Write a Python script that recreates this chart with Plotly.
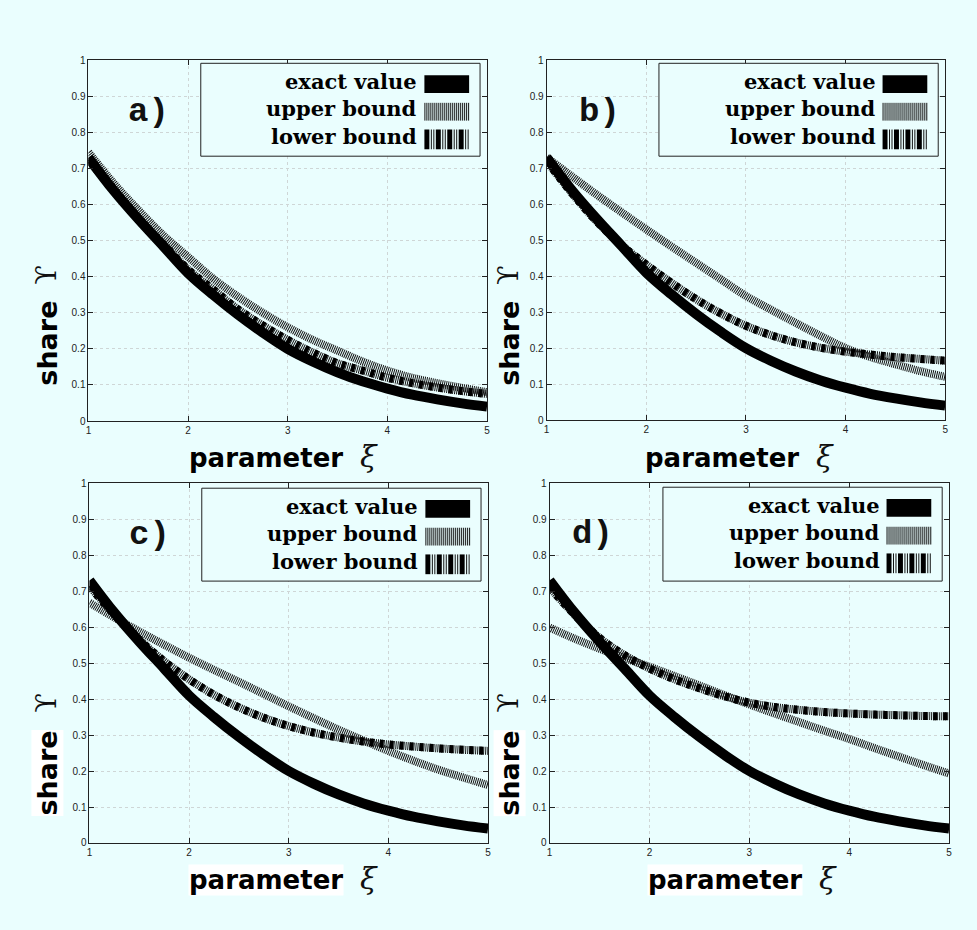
import plotly.graph_objects as go

# ---------------- data ----------------
xi = [1.0, 1.25, 1.5, 1.75, 2.0, 2.25, 2.5, 2.75, 3.0, 3.25, 3.5, 3.75, 4.0, 4.25, 4.5, 4.75, 5.0]

exact = [0.73, 0.64, 0.56, 0.485, 0.41, 0.35, 0.295, 0.245, 0.20, 0.165, 0.135, 0.11, 0.09, 0.073, 0.06, 0.049, 0.04]

upper_a = [0.745, 0.66, 0.585, 0.515, 0.455, 0.395, 0.345, 0.30, 0.26, 0.225, 0.195, 0.165, 0.14, 0.12, 0.105, 0.092, 0.08]
lower_a = [0.725, 0.64, 0.56, 0.49, 0.42, 0.365, 0.31, 0.265, 0.225, 0.19, 0.16, 0.14, 0.12, 0.105, 0.093, 0.083, 0.075]

upper_b = [0.73, 0.678, 0.627, 0.578, 0.53, 0.483, 0.437, 0.391, 0.345, 0.307, 0.27, 0.234, 0.20, 0.175, 0.155, 0.136, 0.12]
lower_b = [0.72, 0.632, 0.553, 0.487, 0.432, 0.382, 0.336, 0.296, 0.262, 0.236, 0.216, 0.201, 0.19, 0.182, 0.175, 0.17, 0.165]

upper_c = [0.668, 0.627, 0.588, 0.551, 0.515, 0.481, 0.448, 0.414, 0.38, 0.347, 0.315, 0.285, 0.256, 0.229, 0.204, 0.182, 0.161]
lower_c = [0.714, 0.635, 0.565, 0.505, 0.455, 0.412, 0.377, 0.348, 0.325, 0.307, 0.293, 0.282, 0.274, 0.268, 0.263, 0.259, 0.256]

upper_d = [0.599, 0.568, 0.54, 0.514, 0.49, 0.464, 0.438, 0.411, 0.385, 0.36, 0.336, 0.312, 0.289, 0.264, 0.24, 0.216, 0.193]
lower_d = [0.71, 0.635, 0.57, 0.522, 0.485, 0.455, 0.43, 0.408, 0.39, 0.378, 0.37, 0.364, 0.36, 0.357, 0.355, 0.353, 0.352]

panel_labels = ["a)", "b)", "c)", "d)"]
legend_names = ["exact value", "upper bound", "lower bound"]
x_title = "parameter"
x_symbol = "ξ"
y_title = "share"
y_symbol = "ϒ"
x_ticks = [1, 2, 3, 4, 5]
y_ticks = [0, 0.1, 0.2, 0.3, 0.4, 0.5, 0.6, 0.7, 0.8, 0.9, 1]

uppers = [upper_a, upper_b, upper_c, upper_d]
lowers = [lower_a, lower_b, lower_c, lower_d]

# ---------------- layout (pixels) ----------------
W, H = 977, 930
BG = "#eafefe"

panels = [
    dict(xd=(86, 487), yd=(56, 421), lab=(146, 108), leg=(199, 59, 480, 153),
         xt=(343, 458), yt=(45, 342, 273), white=False),
    dict(xd=(547, 948), yd=(56, 420), lab=(600, 108), leg=(660, 59, 941, 153),
         xt=(802, 458), yt=(510, 342, 273), white=False),
    dict(xd=(87, 488), yd=(484, 848), lab=(147, 536), leg=(200, 489, 481, 583),
         xt=(343, 885), yt=(45, 777, 706), white=True),
    dict(xd=(550, 952), yd=(484, 848), lab=(593, 535), leg=(664, 488, 945, 583),
         xt=(805, 885), yt=(510, 777, 706), white=True),
]


def px(x):
    return x / W


def py(y):
    return 1 - y / H


fig = go.Figure()
shapes = []
annotations = []
layout_axes = {}

for i, p in enumerate(panels):
    suf = "" if i == 0 else str(i + 1)
    xa, ya = "x" + suf, "y" + suf

    # upper bound: fine hatched band
    fig.add_trace(go.Scatter(x=xi, y=uppers[i], mode="lines", xaxis=xa, yaxis=ya,
                             line=dict(color="#111", width=8, dash="1px,1px", shape="spline"),
                             showlegend=False, hoverinfo="skip"))
    # lower bound: hatched band with black blocks
    fig.add_trace(go.Scatter(x=xi, y=lowers[i], mode="lines", xaxis=xa, yaxis=ya,
                             line=dict(color="#111", width=8, dash="1px,1px", shape="spline"),
                             showlegend=False, hoverinfo="skip"))
    fig.add_trace(go.Scatter(x=xi, y=lowers[i], mode="lines", xaxis=xa, yaxis=ya,
                             line=dict(color="black", width=8, dash="4px,6px", shape="spline"),
                             showlegend=False, hoverinfo="skip"))
    # exact value: thick solid
    fig.add_trace(go.Scatter(x=xi, y=exact, mode="lines", xaxis=xa, yaxis=ya,
                             line=dict(color="black", width=10, shape="spline"),
                             showlegend=False, hoverinfo="skip"))

    common = dict(showline=True, linecolor="#222", linewidth=1, mirror="ticks",
                  ticks="inside", ticklen=5, tickcolor="#222", showgrid=True,
                  gridcolor="#cfd6d6", griddash="dot", gridwidth=1, zeroline=False,
                  tickfont=dict(family="Liberation Sans", size=10, color="#222"))
    layout_axes["xaxis" + suf] = dict(domain=[px(p["xd"][0]), px(p["xd"][1])], range=[1, 5],
                                      tickvals=x_ticks, anchor=ya, **common)
    layout_axes["yaxis" + suf] = dict(domain=[py(p["yd"][1]), py(p["yd"][0])], range=[0, 1],
                                      tickvals=y_ticks, anchor=xa, **common)

    # panel label
    annotations.append(dict(x=px(p["lab"][0]), y=py(p["lab"][1]), xref="paper", yref="paper",
                            text="<b>%s</b>" % panel_labels[i], showarrow=False,
                            font=dict(family="Liberation Mono", size=34, color="#111"),
                            xanchor="center", yanchor="middle"))

    # x axis title
    wb = "white" if p["white"] else "rgba(0,0,0,0)"
    annotations.append(dict(x=px(p["xt"][0]), y=py(p["xt"][1]), xref="paper", yref="paper",
                            text="<b>%s</b>" % x_title, showarrow=False, bgcolor=wb, borderpad=0,
                            font=dict(family="DejaVu Sans", size=26, color="#000"),
                            xanchor="right", yanchor="middle"))
    annotations.append(dict(x=px(p["xt"][0] + 14), y=py(p["xt"][1] - 1), xref="paper", yref="paper",
                            text="<i>%s</i>" % x_symbol, showarrow=False,
                            font=dict(family="DejaVu Serif", size=30, color="#111"),
                            xanchor="left", yanchor="middle"))
    # y axis title
    annotations.append(dict(x=px(p["yt"][0]), y=py(p["yt"][1]), xref="paper", yref="paper",
                            text="<b>%s</b>" % y_title, showarrow=False, textangle=-90,
                            bgcolor=wb, borderpad=0,
                            font=dict(family="DejaVu Sans", size=27, color="#000"),
                            xanchor="center", yanchor="middle"))
    annotations.append(dict(x=px(p["yt"][0] - 1), y=py(p["yt"][2]), xref="paper", yref="paper",
                            text=y_symbol, showarrow=False, textangle=-90,
                            font=dict(family="DejaVu Serif", size=28, color="#111"),
                            xanchor="center", yanchor="middle"))

    # legend box
    l, t, r, b = p["leg"]
    shapes.append(dict(type="rect", xref="paper", yref="paper", x0=px(l), x1=px(r), y0=py(b), y1=py(t),
                       line=dict(color="#222", width=1), fillcolor=BG, layer="above"))
    rows = [t + 21, t + 49, t + 77]
    s_l, s_r = r - 56, r - 11
    for k, name in enumerate(legend_names):
        annotations.append(dict(x=px(r - 61), y=py(rows[k] - 3), xref="paper", yref="paper",
                                text="<b>%s</b>" % name, showarrow=False,
                                font=dict(family="DejaVu Serif", size=21, color="#000"),
                                xanchor="right", yanchor="middle"))
    # exact sample
    shapes.append(dict(type="rect", xref="paper", yref="paper", x0=px(s_l), x1=px(s_r),
                       y0=py(rows[0] + 9), y1=py(rows[0] - 9), fillcolor="black",
                       line=dict(width=0), layer="above"))
    # upper sample: thin stripes
    for j in range(23):
        xs = s_l + 0.5 + j * 2
        shapes.append(dict(type="line", xref="paper", yref="paper", x0=px(xs), x1=px(xs),
                           y0=py(rows[1] + 9), y1=py(rows[1] - 9),
                           line=dict(color="#111", width=1), layer="above"))
    # lower sample: thick blocks + thin stripes
    for j in range(4):
        base = s_l + j * 11.5
        shapes.append(dict(type="rect", xref="paper", yref="paper", x0=px(base), x1=px(base + 5),
                           y0=py(rows[2] + 10), y1=py(rows[2] - 10), fillcolor="black",
                           line=dict(width=0), layer="above"))
        for off in (7, 9.5):
            xs = base + off
            if xs < s_r:
                shapes.append(dict(type="line", xref="paper", yref="paper", x0=px(xs), x1=px(xs),
                                   y0=py(rows[2] + 10), y1=py(rows[2] - 10),
                                   line=dict(color="#111", width=1), layer="above"))

fig.update_layout(
    width=W, height=H, autosize=False,
    margin=dict(l=0, r=0, t=0, b=0),
    paper_bgcolor=BG, plot_bgcolor=BG,
    showlegend=False,
    shapes=shapes, annotations=annotations,
    **layout_axes,
)

fig.write_html("out.html")
